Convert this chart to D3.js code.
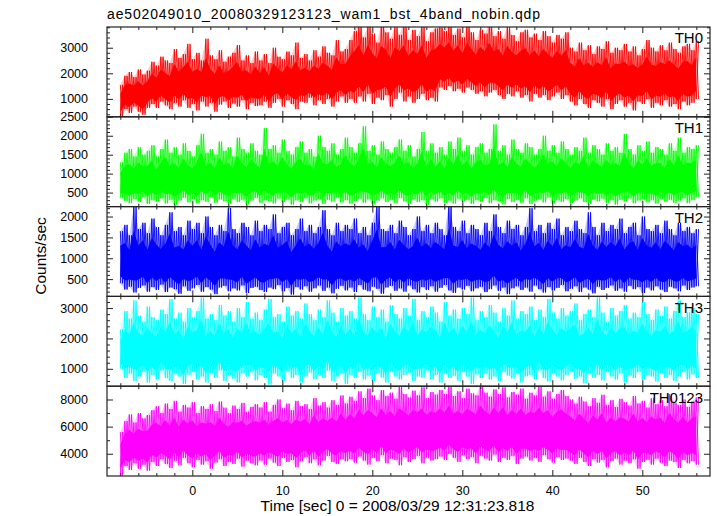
<!DOCTYPE html>
<html>
<head>
<meta charset="utf-8">
<script src="https://cdn.jsdelivr.net/npm/d3@7"></script>
<style>
  html, body { margin: 0; padding: 0; background: #fff; }
  svg { display: block; }
  text { font-family: "Liberation Sans", Arial, Helvetica, sans-serif; fill: #000; }
</style>
</head>
<body>
<svg id="chart" width="717" height="516"></svg>
<script>
// ---------------- DATA ----------------
const title = "ae502049010_20080329123123_wam1_bst_4band_nobin.qdp";
const xLabel = "Time [sec] 0 = 2008/03/29 12:31:23.818";
const yLabel = "Counts/sec";
const panelNames = ["TH0", "TH1", "TH2", "TH3", "TH0123"];
const panelColors = ["#ff0000", "#00ff00", "#0000ff", "#00ffff", "#ff00ff"];

// time sampling of the envelopes (start of data and bin width, sec)
const tStart = -8;
const tBin = 0.5;

// x axis ticks
const xMajorTicks = [0, 10, 20, 30, 40, 50];
const xMinorTicks = [-8, -6, -4, -2, 2, 4, 6, 8, 12, 14, 16, 18, 22, 24, 26, 28, 32, 34, 36, 38, 42, 44, 46, 48, 52, 54, 56];
const xDomain = [-9.48, 57.52];

// y domains and ticks per panel
const yDomains = [[300, 3810], [130, 2500], [86, 2238], [427, 3384], [2360, 8980]];
const yMajorTicks = [
  [1000, 2000, 3000],
  [500, 1000, 1500, 2000, 2500],
  [500, 1000, 1500, 2000],
  [1000, 2000, 3000],
  [4000, 6000, 8000]
];
const yMinorStep = [200, 100, 100, 200, 1000];

// upper / lower envelopes of each light curve (counts/sec), one value per 0.5 s bin
const th0Hi = [1550, 1900, 2050, 1850, 2150, 1950, 2100,
  2450, 2300, 2650, 2500, 2400, 2950, 2600, 2750, 3150, 2550, 2800, 2500, 3350, 2700, 2550, 2900, 2450, 2650, 2800, 3100, 2500, 2700, 2400, 2850,
  2500, 2750, 2400, 3000, 2650, 2550, 2850, 2700, 3200, 2600, 2750, 2500, 2900, 2650, 3050, 2800, 2700, 3300, 2850, 2950,
  3300, 3650, 3900, 3400, 3850, 3550, 3200, 3900, 3600, 3350, 3800, 3500, 3950, 3300, 3700, 3450, 3850, 3250, 3600, 3750,
  3800, 3650, 3900, 3500, 3750, 3400, 3850, 3600, 3300, 3700, 3550, 3950, 3450, 3650, 3350, 3800, 3500, 3250, 3600, 3700, 3400, 3550, 3300, 3650, 3450, 3200, 3500, 3350, 3600,
  3000, 2850, 3200, 2900, 3100, 2750, 3050, 2950, 3250, 2800, 3000, 2900, 3150, 2850, 3050, 2700, 2950, 3300, 3000, 2850, 3100, 2900, 3200, 2950, 2800, 3050, 3150, 2900, 3250];
const th0Lo = [300, 600, 450, 700, 500, 380, 650,
  800, 650, 900, 750, 600, 850, 700, 950, 650, 800, 550, 900, 700, 850, 500, 780, 900, 650, 820, 700, 950, 600, 850, 720,
  750, 900, 650, 850, 1000, 700, 950, 800, 600, 900, 850, 1050, 750, 950, 800, 1000, 700, 900, 1100, 850,
  1000, 850, 1100, 900, 1200, 800, 1050, 950, 1150, 700, 1000, 1250, 900, 1100, 850, 1000, 1200, 950, 1050, 900,
  1450, 1350, 1500, 1300, 1400, 1250, 1450, 1350, 1200, 1300, 1100, 1250, 1350, 1150, 1000, 1200, 1100, 1300, 1050, 1150, 900, 1200, 1050, 1150, 950, 1100, 1250, 1000, 1150,
  900, 750, 1000, 800, 650, 950, 850, 700, 1000, 600, 800, 950, 700, 850, 550, 900, 800, 1000, 650, 850, 750, 950, 700, 800, 600, 900, 750, 850, 1000];

const th1Hi = [1300, 1550, 1650, 1450, 1700, 1500, 1600, 1750, 1450, 1650,
  1900, 1550, 1700, 1500, 1800, 1600, 1450, 1750, 2050, 1550,
  1650, 1500, 1850, 1600, 1700, 1450, 1950, 1650, 1550, 1800,
  1600, 1500, 2200, 1650, 1750, 1550, 1900, 1600, 1500, 1700,
  1850, 1550, 1650, 1450, 2000, 1700, 1600, 1800, 1500, 1650,
  1950, 1700, 1550, 1800, 2250, 1600, 1750, 1500, 1850, 1650,
  1550, 1700, 1900, 1600, 1750, 1450, 1650, 2100, 1600, 1800,
  1550, 1700, 1500, 1850, 1650, 1950, 1600, 1750, 1500, 1700,
  1800, 1550, 1650, 2300, 1600, 1750, 1500, 1900, 1650, 1550,
  1800, 1700, 1500, 1650, 2000, 1600, 1750, 1550, 1850, 1650,
  1500, 1700, 1600, 1950, 1550, 1750, 1650, 1500, 1800, 1600,
  1700, 1550, 2050, 1650, 1500, 1750, 1600, 1850, 1550, 1700,
  1650, 1500, 1800, 1600, 1950, 1550, 1700, 1650, 1750];
const th1Lo = [350, 280, 220, 330, 250, 380, 200, 300, 260, 350,
  220, 310, 180, 290, 370, 240, 330, 210, 300, 260,
  380, 230, 320, 270, 200, 340, 250, 310, 190, 290,
  360, 230, 300, 270, 210, 340, 260, 320, 180, 300,
  250, 350, 220, 290, 330, 200, 310, 260, 370, 240,
  300, 210, 280, 340, 230, 320, 190, 290, 350, 250,
  310, 220, 360, 270, 200, 330, 250, 300, 180, 320,
  260, 350, 230, 290, 210, 340, 270, 310, 200, 300,
  250, 360, 220, 300, 270, 190, 330, 250, 310, 230,
  350, 200, 290, 320, 240, 370, 210, 300, 260, 330,
  220, 290, 350, 250, 200, 320, 270, 340, 230, 300,
  180, 310, 260, 350, 220, 290, 330, 240, 300, 210,
  340, 260, 310, 230, 290, 350, 220, 300, 380];

const th2Hi = [1650, 1800, 1550, 2250, 1700, 1850, 1600, 1950, 1750, 1550,
  1800, 2100, 1650, 1750, 1550, 1900, 1700, 1850, 1600, 2000,
  1750, 1550, 1800, 1650, 2200, 1700, 1600, 1850, 1750, 1550,
  1900, 1650, 1800, 1700, 2050, 1600, 1750, 1850, 1550, 1700,
  1950, 1650, 1800, 1600, 1750, 2150, 1700, 1550, 1850, 1650,
  1800, 1700, 1950, 1600, 1750, 1550, 1850, 2250, 1700, 1650,
  1800, 1600, 1900, 1750, 1550, 1700, 2000, 1650, 1800, 1600,
  1850, 1700, 1550, 2300, 1750, 1650, 1900, 1600, 1800, 1700,
  1550, 1850, 1650, 2050, 1750, 1600, 1900, 1700, 1800, 1550,
  1750, 2200, 1650, 1800, 1600, 1850, 1700, 1950, 1550, 1750,
  1650, 1900, 1700, 1600, 2100, 1750, 1550, 1850, 1650, 1800,
  1700, 1950, 1600, 1750, 1850, 1550, 2000, 1700, 1650, 1800,
  1600, 1900, 1700, 1550, 1850, 1650, 1750, 1600, 1700];
const th2Lo = [400, 250, 320, 180, 290, 350, 200, 310, 240, 370,
  190, 300, 260, 150, 330, 220, 280, 360, 200, 310,
  250, 140, 300, 340, 210, 280, 230, 350, 170, 290,
  320, 240, 190, 300, 260, 360, 210, 290, 130, 310,
  250, 330, 200, 280, 350, 220, 300, 160, 270, 340,
  230, 300, 190, 360, 250, 210, 320, 270, 150, 300,
  340, 220, 280, 200, 350, 260, 180, 310, 240, 330,
  200, 290, 360, 230, 170, 300, 250, 340, 210, 280,
  320, 190, 260, 350, 220, 300, 140, 280, 330, 240,
  300, 200, 350, 260, 180, 310, 230, 290, 360, 210,
  270, 330, 190, 300, 250, 160, 320, 240, 290, 350,
  220, 280, 200, 340, 260, 310, 170, 300, 230, 330,
  250, 190, 320, 280, 210, 350, 240, 300, 330];

const th3Hi = [2300, 2900, 2650, 3250, 2750, 2550, 3050, 2700, 2600, 2950,
  2800, 3300, 2650, 2850, 2550, 3000, 2700, 2900, 3350, 2650,
  2800, 2600, 3100, 2750, 2900, 2550, 3000, 2700, 3200, 2650,
  2850, 2600, 2950, 3300, 2700, 2800, 2550, 3050, 2750, 2900,
  2650, 3150, 2800, 2600, 2950, 2700, 3250, 2850, 2550, 3000,
  2750, 2900, 2650, 3350, 2800, 2600, 3050, 2700, 2950, 2550,
  3100, 2800, 2650, 3000, 2750, 3300, 2600, 2900, 2700, 3050,
  2850, 2550, 3200, 2750, 2950, 2650, 3000, 2800, 3350, 2600,
  2900, 2700, 3100, 2850, 2550, 3000, 2750, 3250, 2650, 2900,
  2800, 3050, 2600, 2950, 2700, 3300, 2850, 2650, 3000, 2750,
  2900, 3150, 2600, 2800, 2950, 2700, 3350, 2850, 2550, 3000,
  2750, 2900, 3100, 2650, 2850, 2700, 3200, 2800, 2600, 2950,
  2750, 3050, 2650, 2900, 3250, 2700, 2850, 3000, 2800];
const th3Lo = [1000, 700, 850, 600, 750, 900, 550, 800, 650, 950,
  700, 600, 850, 750, 500, 800, 900, 650, 750, 550,
  850, 700, 950, 600, 800, 680, 550, 850, 750, 900,
  620, 800, 700, 480, 850, 750, 600, 900, 700, 800,
  550, 750, 880, 650, 800, 700, 950, 600, 750, 850,
  500, 800, 700, 900, 650, 780, 600, 850, 720, 550,
  900, 750, 650, 800, 880, 600, 750, 700, 950, 650,
  800, 550, 850, 700, 780, 600, 900, 750, 500, 820,
  700, 850, 650, 750, 600, 900, 780, 680, 850, 550,
  750, 800, 650, 950, 700, 580, 850, 750, 620, 800,
  900, 680, 750, 520, 850, 700, 800, 620, 900, 750,
  650, 850, 550, 780, 700, 900, 640, 800, 750, 580,
  850, 700, 800, 600, 750, 900, 650, 820, 700];

const th0123Hi = [5600, 6400, 6900, 6300, 7000, 6600, 6850,
  7200, 7500, 7000, 7700, 7300, 7900, 7100, 7600, 7400, 7800, 7000, 7500, 7300, 7650, 7150, 7850, 7400, 7000, 7550, 7300, 7750, 7100, 7450, 7650,
  7400, 7800, 7100, 7600, 8000, 7350, 7700, 7200, 7900, 7500, 7650, 7300, 8100, 7550, 7800, 7400, 7950, 7600, 8300, 7700,
  8200, 7900, 8600, 8100, 8800, 8300, 7950, 8700, 8250, 8500, 8050, 9000, 8400, 8150, 8650, 8300, 8900, 8100, 8550, 8350,
  8700, 8400, 8950, 8250, 8600, 8100, 8800, 8450, 8300, 9000, 8500, 8200, 8750, 8400, 8900, 8150, 8550, 8350, 8800, 8050, 8500, 8300, 8950, 8200, 8600, 8050, 8400, 8700, 8250,
  8000, 7700, 8200, 7850, 7500, 8100, 7750, 8350, 7600, 7950, 7450, 8050, 7800, 7550, 8250, 7700, 7900, 7400, 8100, 7650, 7950, 7500, 8400, 7750, 7600, 8000, 7450, 7850, 8150];
const th0123Lo = [2400, 3100, 2800, 3300, 2900, 3200, 2750,
  3400, 3100, 3600, 3250, 2950, 3500, 3150, 3700, 3300, 3000, 3550, 3200, 3450, 2900, 3350, 3600, 3100, 3400, 3250, 3650, 3050, 3500, 3300, 3150,
  3500, 3200, 3650, 3350, 3100, 3700, 3400, 3550, 3000, 3450, 3750, 3300, 3600, 3150, 3500, 3850, 3400, 3250, 3600, 3450,
  3600, 3350, 3800, 3500, 3200, 3700, 3450, 3900, 3300, 3650, 3550, 3150, 3750, 3400, 3600, 3850, 3300, 3700, 3500, 3600,
  3800, 3550, 4000, 3700, 3400, 3900, 3600, 3750, 3300, 3850, 3650, 3500, 3950, 3400, 3700, 3550, 3850, 3250, 3650, 3800, 3500, 3700, 3400, 3900, 3600, 3350, 3750, 3550, 3650,
  3500, 3250, 3700, 3400, 3100, 3600, 3350, 3550, 3000, 3450, 3650, 3200, 3500, 3300, 3600, 2900, 3400, 3550, 3200, 3650, 3350, 3100, 3500, 3400, 2950, 3550, 3300, 3450, 3200];

const highs = [th0Hi, th1Hi, th2Hi, th3Hi, th0123Hi];
const lows = [th0Lo, th1Lo, th2Lo, th3Lo, th0123Lo];

// ---------------- LAYOUT ----------------
const plotLeft = 107, plotRight = 710, plotTop = 27, panelH = 89.8;
const svg = d3.select("#chart");

const x = d3.scaleLinear().domain(xDomain).range([plotLeft, plotRight]);

function styleAxis(g) {
  g.select(".domain").remove();
  g.selectAll(".tick line").attr("stroke", "#222").attr("stroke-width", 1);
  g.selectAll(".tick text").attr("font-size", "12.5px").attr("font-family", "'Liberation Sans', Arial, sans-serif").attr("fill", "#000");
}

panelNames.forEach((name, p) => {
  const top = plotTop + p * panelH;
  const bottom = top + panelH;
  const y = d3.scaleLinear().domain(yDomains[p]).range([bottom, top]);

  const clipId = "clip" + p;
  svg.append("clipPath").attr("id", clipId)
    .append("rect").attr("x", plotLeft).attr("y", top).attr("width", plotRight - plotLeft).attr("height", panelH);

  const hi = highs[p], lo = lows[p];
  const pts = hi.map((h, i) => ({ t: tStart + i * tBin, hi: h, lo: lo[i] }));
  const half = tBin / 2;

  const g = svg.append("g").attr("clip-path", `url(#${clipId})`);

  // faint fringe over the full envelope
  g.append("path").datum(pts)
    .attr("d", d3.area().x(d => x(d.t)).y0(d => y(d.lo)).y1(d => y(d.hi)))
    .attr("fill", panelColors[p])
    .attr("fill-opacity", 0.22);

  // solid core of the band (inner part of each bin's envelope)
  g.append("path").datum(pts)
    .attr("d", d3.area()
      .x(d => x(d.t))
      .y0(d => y(d.lo + 0.14 * (d.hi - d.lo)))
      .y1(d => y(d.hi - 0.28 * (d.hi - d.lo))))
    .attr("fill", panelColors[p]);

  // spikes: two crossing zig-zags through the high and low of each bin
  const zigA = [], zigB = [];
  pts.forEach(d => {
    zigA.push([d.t, d.hi]); zigA.push([d.t + half, d.lo]);
    zigB.push([d.t, d.lo]); zigB.push([d.t + half, d.hi]);
  });
  const line = d3.line().x(d => x(d[0])).y(d => y(d[1]));
  [zigA, zigB].forEach(z => {
    g.append("path").datum(z)
      .attr("d", line)
      .attr("fill", "none")
      .attr("stroke", panelColors[p])
      .attr("stroke-width", 0.9);
  });

  // y ticks
  const dom = yDomains[p];
  const minors = d3.range(Math.ceil(dom[0] / yMinorStep[p]) * yMinorStep[p], dom[1] + 0.001, yMinorStep[p])
    .filter(v => !yMajorTicks[p].includes(v));

  const leftMajor = svg.append("g").attr("transform", `translate(${plotLeft},0)`)
    .call(d3.axisLeft(y).tickValues(yMajorTicks[p]).tickSize(-6).tickPadding(19).tickFormat(d3.format("d")));
  styleAxis(leftMajor);
  const leftMinor = svg.append("g").attr("transform", `translate(${plotLeft},0)`)
    .call(d3.axisLeft(y).tickValues(minors).tickSize(-3).tickFormat(""));
  styleAxis(leftMinor);
  const rightMajor = svg.append("g").attr("transform", `translate(${plotRight},0)`)
    .call(d3.axisRight(y).tickValues(yMajorTicks[p]).tickSize(-6).tickFormat(""));
  styleAxis(rightMajor);
  const rightMinor = svg.append("g").attr("transform", `translate(${plotRight},0)`)
    .call(d3.axisRight(y).tickValues(minors).tickSize(-3).tickFormat(""));
  styleAxis(rightMinor);

  // x ticks, top and bottom of each panel
  const topMajor = svg.append("g").attr("transform", `translate(0,${top})`)
    .call(d3.axisTop(x).tickValues(xMajorTicks).tickSize(-6).tickFormat(""));
  styleAxis(topMajor);
  const topMinor = svg.append("g").attr("transform", `translate(0,${top})`)
    .call(d3.axisTop(x).tickValues(xMinorTicks).tickSize(-3).tickFormat(""));
  styleAxis(topMinor);
  const isLast = p === panelNames.length - 1;
  const botMajor = svg.append("g").attr("transform", `translate(0,${bottom})`)
    .call(d3.axisBottom(x).tickValues(xMajorTicks).tickSize(-6).tickPadding(10).tickFormat(isLast ? d3.format("d") : ""));
  styleAxis(botMajor);
  const botMinor = svg.append("g").attr("transform", `translate(0,${bottom})`)
    .call(d3.axisBottom(x).tickValues(xMinorTicks).tickSize(-3).tickFormat(""));
  styleAxis(botMinor);

  // frame
  svg.append("rect")
    .attr("x", plotLeft).attr("y", top)
    .attr("width", plotRight - plotLeft).attr("height", panelH)
    .attr("fill", "none").attr("stroke", "#222").attr("stroke-width", 1.2);

  // panel label
  svg.append("text")
    .attr("x", 703).attr("y", top + 16.3)
    .attr("text-anchor", "end")
    .attr("font-size", "15px")
    .text(name);
});

// title
svg.append("text")
  .attr("x", 107).attr("y", 19.3)
  .attr("font-size", "14px")
  .attr("textLength", 433)
  .attr("lengthAdjust", "spacing")
  .text(title);

// x label
svg.append("text")
  .attr("x", 397.5).attr("y", 510.7)
  .attr("text-anchor", "middle")
  .attr("font-size", "15.5px")
  .text(xLabel);

// y label
svg.append("text")
  .attr("transform", "translate(46,256) rotate(-90)")
  .attr("text-anchor", "middle")
  .attr("font-size", "15.5px")
  .text(yLabel);
</script>
</body>
</html>
